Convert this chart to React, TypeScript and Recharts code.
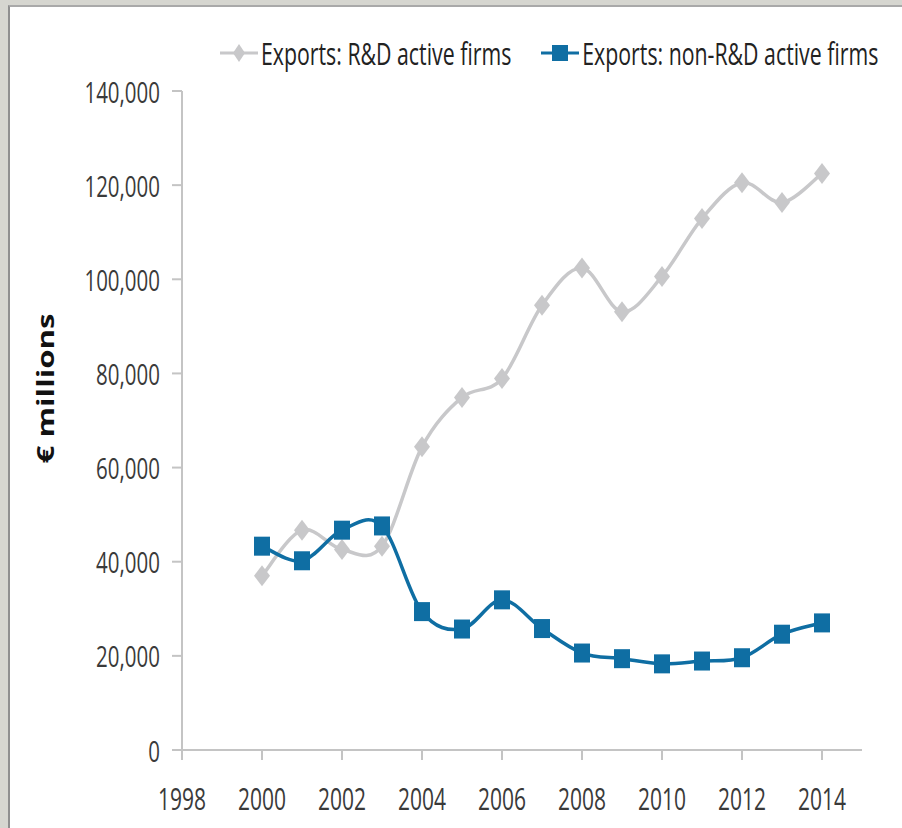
import React from 'react';
import { LineChart, Line, XAxis, YAxis } from 'recharts';

const years = [2000, 2001, 2002, 2003, 2004, 2005, 2006, 2007, 2008, 2009, 2010, 2011, 2012, 2013, 2014];
const rdActive = [37000, 46700, 42600, 43300, 64400, 74900, 78900, 94500, 102400, 93100, 100600, 112900, 120500, 116300, 122500];
const nonRdActive = [43300, 40200, 46700, 47600, 29400, 25700, 31900, 25800, 20600, 19400, 18300, 18900, 19600, 24600, 27000];
const xTicks = [1998, 2000, 2002, 2004, 2006, 2008, 2010, 2012, 2014];
const yTicks = [0, 20000, 40000, 60000, 80000, 100000, 120000, 140000];

const GREY = '#c8c8ca';
const BLUE = '#0f6ea3';
const FONT = '"Open Sans", "Noto Sans", sans-serif';
const STRETCH = 1.45;

const chartData = years.map((year, i) => ({
  year,
  rd: rdActive[i],
  nonRd: nonRdActive[i],
}));

// Excel style smoothing (Catmull-Rom through the points)
const excelCurve = (context: any) => {
  let pts: number[][] = [];
  return {
    areaStart() {},
    areaEnd() {},
    lineStart() {
      pts = [];
    },
    point(x: number, y: number) {
      pts.push([+x, +y]);
    },
    lineEnd() {
      if (!pts.length) return;
      context.moveTo(pts[0][0], pts[0][1]);
      for (let i = 0; i < pts.length - 1; i++) {
        const p0 = pts[i - 1] || pts[i];
        const p1 = pts[i];
        const p2 = pts[i + 1];
        const p3 = pts[i + 2] || p2;
        context.bezierCurveTo(
          p1[0] + (p2[0] - p0[0]) / 6,
          p1[1] + (p2[1] - p0[1]) / 6,
          p2[0] - (p3[0] - p1[0]) / 6,
          p2[1] - (p3[1] - p1[1]) / 6,
          p2[0],
          p2[1]
        );
      }
    },
  };
};

const DiamondDot = (props: any) => {
  const { cx, cy, index } = props;
  if (cx == null || cy == null) return <g key={`rd-${index}`} />;
  return (
    <path
      key={`rd-${index}`}
      d={`M${cx},${cy - 10.5} L${cx + 8},${cy} L${cx},${cy + 10.5} L${cx - 8},${cy} Z`}
      fill={GREY}
    />
  );
};

const SquareDot = (props: any) => {
  const { cx, cy, index } = props;
  if (cx == null || cy == null) return <g key={`nrd-${index}`} />;
  return <rect key={`nrd-${index}`} x={cx - 8} y={cy - 9.5} width={16} height={19} fill={BLUE} />;
};

const YTick = (props: any) => {
  const { x, y, payload } = props;
  return (
    <text
      transform={`translate(${x},${y}) scale(1,${STRETCH})`}
      textAnchor="end"
      dominantBaseline="central"
      fontFamily={FONT}
      fontSize={20.5}
      fill="#3a3a3a"
    >
      {payload.value.toLocaleString('en-US')}
    </text>
  );
};

const XTick = (props: any) => {
  const { x, y, payload } = props;
  return (
    <text
      transform={`translate(${x},${y + 36}) scale(1,${STRETCH})`}
      textAnchor="middle"
      dominantBaseline="central"
      fontFamily={FONT}
      fontSize={21}
      fill="#3a3a3a"
    >
      {payload.value}
    </text>
  );
};

const YLabel = (props: any) => {
  const { viewBox } = props;
  const cx = viewBox.x + 45;
  const cy = viewBox.y + viewBox.height / 2 - 32;
  return (
    <text
      transform={`translate(${cx},${cy}) rotate(-90) scale(1.3,1)`}
      textAnchor="middle"
      dominantBaseline="central"
      fontFamily={FONT}
      fontWeight="bold"
      fontSize={24}
      fill="#111"
    >
      € millions
    </text>
  );
};

const LegendItem = ({ label, color, square }: { label: string; color: string; square?: boolean }) => (
  <div style={{ display: 'flex', alignItems: 'center', marginRight: 30 }}>
    <svg width={38} height={24} style={{ marginRight: 3 }}>
      <line x1={0} y1={12} x2={38} y2={12} stroke={color} strokeWidth={3} />
      {square ? (
        <rect x={11} y={4} width={16} height={16} fill={color} />
      ) : (
        <path d="M19,3 L25,12 L19,21 L13,12 Z" fill={color} />
      )}
    </svg>
    <span
      style={{
        fontFamily: FONT,
        fontSize: 21.3,
        color: '#222',
        display: 'inline-block',
        transform: `scaleY(${STRETCH})`,
        whiteSpace: 'nowrap',
      }}
    >
      {label}
    </span>
  </div>
);

export default function App() {
  return (
    <div style={{ position: 'absolute', left: 0, top: 0, width: 902, height: 828, background: '#d6d6d0', overflow: 'hidden' }}>
      <div
        style={{
          position: 'absolute',
          left: 8,
          top: 5,
          right: 0,
          bottom: 0,
          background: '#fff',
          borderTop: '2px solid #a9a9a9',
          borderLeft: '2px solid #8f8f8f',
        }}
      />
      <div style={{ position: 'absolute', left: 220, top: 38, display: 'flex' }}>
        <LegendItem label="Exports: R&D active firms" color={GREY} />
        <LegendItem label="Exports: non-R&D active firms" color={BLUE} square />
      </div>
      <div style={{ position: 'absolute', left: 0, top: 0 }}>
        <LineChart width={902} height={828} data={chartData} margin={{ top: 91, right: 40, bottom: 0, left: 0 }}>
          <XAxis
            dataKey="year"
            type="number"
            domain={[1998, 2015]}
            ticks={xTicks}
            allowDataOverflow
            height={78}
            stroke="#c4c4c4"
            strokeWidth={2}
            tickSize={10}
            tick={<XTick />}
          />
          <YAxis
            type="number"
            domain={[0, 140000]}
            ticks={yTicks}
            width={182}
            stroke="#c4c4c4"
            strokeWidth={2}
            tickSize={10}
            tickMargin={12}
            tick={<YTick />}
            label={<YLabel />}
          />
          <Line
            dataKey="rd"
            type={excelCurve as any}
            stroke={GREY}
            strokeWidth={3.5}
            dot={DiamondDot}
            activeDot={false}
            isAnimationActive={false}
          />
          <Line
            dataKey="nonRd"
            type={excelCurve as any}
            stroke={BLUE}
            strokeWidth={3.5}
            dot={SquareDot}
            activeDot={false}
            isAnimationActive={false}
          />
        </LineChart>
      </div>
    </div>
  );
}
